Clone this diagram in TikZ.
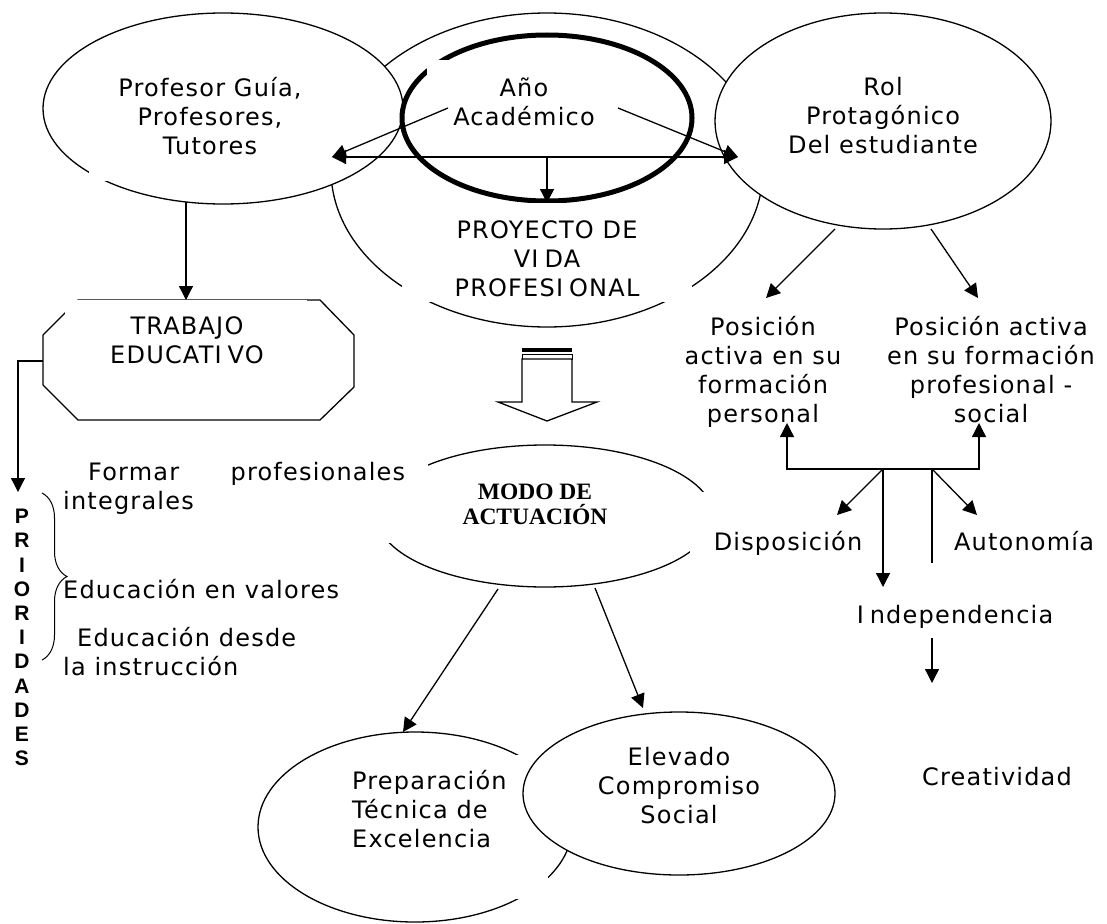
\documentclass[tikz,border=0pt]{standalone}
\usepackage{fontspec}
\usetikzlibrary{shapes.geometric,arrows.meta,decorations.pathreplacing}
\newfontfamily\vf{DejaVu Sans}[LetterSpace=5]
\newfontfamily\abold{Liberation Sans}
\newfontfamily\tbold{Liberation Serif}
\newcommand\vfs{\vf\fontsize{24}{29}\selectfont}
\newcommand\pfs{\abold\bfseries\fontsize{21}{24.2}\selectfont}
\newcommand\mfs{\tbold\bfseries\fontsize{23.5}{25}\selectfont}
\begin{document}
\begin{tikzpicture}[x=1pt,y=-1pt,
  ln/.style={line width=1.3pt},
  ell/.style={ellipse, draw, line width=1.3pt, inner sep=0pt},
  txt/.style={font=\vfs, inner sep=0pt, align=center, execute at begin node=\strut, execute at end node=\strut},
  tip/.tip={Triangle[length=14pt,width=14pt]},
  arr/.style={line width=1.3pt, -tip},
  mask/.style={fill=white}]
\fill[white] (0,0) rectangle (1107,923);
\useasboundingbox (0,0) rectangle (1107,923);

% top group
\node[ell, minimum width=432pt, minimum height=314pt] (proy) at (547,170) {};
\node[ell, fill=white, minimum width=360pt, minimum height=191pt] (prof) at (223,108.5) {};
\node[ell, fill=white, minimum width=336pt, minimum height=216pt] (rol) at (883,121) {};
\node[ell, line width=5pt, minimum width=290pt, minimum height=166pt] (ano) at (547,118) {};
\fill[mask] (402,203) rectangle (692,302);
\fill[mask] (427,60) rectangle (640,130);
\fill[mask] (89,70) rectangle (330,181);

% octagon
\draw[ln] (78,300) -- (320,300) -- (354,335) -- (354,387) -- (320,420) -- (78,420) -- (43,385) -- (43,335) -- cycle;
\fill[mask] (65,300) rectangle (307,380);

% modo
\node[ell, minimum width=336pt, minimum height=142pt] (modo) at (545,516) {};
\fill[mask] (60,455) rectangle (428,543);
\fill[mask] (690,492) rectangle (870,565);

% bottom ellipses
\node[ell, minimum width=314pt, minimum height=190pt] (prep) at (415,827) {};
\fill[mask] (340,755) rectangle (548,899);
\node[ell, fill=white, minimum width=312pt, minimum height=163pt] (elev) at (679,793.5) {};

% block arrow
\fill (522,348) rectangle (572,351.5);
\draw[line width=1pt] (522,354) rectangle (572,359);
\draw[ln, fill=white] (522,359) -- (572,359) -- (572,402) -- (597,402) -- (547,421) -- (498,402) -- (522,402) -- cycle;

% texts
\node[txt] (tprof) at (210,120.2) {Profesor Guía,\\Profesores,\\Tutores};
\node[txt] (tano) at (524,105.7) {Año\\Académico};
\node[txt] (trol) at (883,120.2) {Rol\\Protagónico\\Del estudiante};
\node[txt] (tproy) at (547,263.2) {PROYECTO DE\\VI\kern6pt DA\\PROFESI\kern6pt ONAL};
\node[txt] (ttrab) at (187,344.7) {TRABAJO\\EDUCATI\kern6pt VO};
\node[txt] (tpos1) at (763,373.7) {Posición\\activa en su\\formación\\personal};
\node[txt] (tpos2) at (991,373.7) {Posición activa\\en su formación\\profesional -\\social};
\node[txt] (tdisp) at (788,544.2) {Disposición};
\node[txt] (taut) at (1024,544.2) {Autonomía};
\node[txt] (tind) at (955,617.2) {I\kern6pt ndependencia};
\node[txt] (tcrea) at (997,779.2) {Creatividad};
\node[txt, anchor=west, text width=342pt, align=left] (tform) at (63,488.7) {\hspace*{25pt}Formar\hfill profesionales\\integrales};
\node[txt, anchor=west, align=left] (tval) at (63,592.2) {Educación en valores};
\node[txt, anchor=west, align=left] (tdesde) at (63,655.7) {\hspace*{14pt}Educación desde\\la instrucción};
\node[font=\pfs, inner sep=0pt, align=center, execute at begin node=\strut, execute at end node=\strut] (tprio) at (22,641) {P\\R\\I\\O\\R\\I\\D\\A\\D\\E\\S};
\node[font=\mfs, inner sep=0pt, align=center, execute at begin node=\strut, execute at end node=\strut] (tmodo) at (535,507.5) {MODO DE\\ACTUACIÓN};
\node[txt, anchor=west, align=left] (tprep) at (352,813.2) {Preparación\\Técnica de\\Excelencia};
\node[txt] (telev) at (679,790.2) {Elevado\\Compromiso\\Social};

% brace
\draw[line width=1pt, decorate, decoration={brace, amplitude=25pt}] (42,493) -- (42,660);

% connector coordinates
\coordinate (a1) at (448,108);
\coordinate (a2) at (618,108);
\coordinate (pL) at (332,157);
\coordinate (pR) at (738,157);
\coordinate (pm) at (547,157);
\coordinate (pb) at (547,203);
\coordinate (pf) at (186,202);
\coordinate (tr) at (186,300);
\coordinate (oc) at (43,361);
\coordinate (pr) at (18,492);
\coordinate (r1) at (835,229);
\coordinate (r1t) at (766,298);
\coordinate (r2) at (931,229);
\coordinate (r2t) at (978,298);
\coordinate (jL) at (787,469);
\coordinate (jR) at (979,469);
\coordinate (uL) at (787,423);
\coordinate (uR) at (979,423);
\coordinate (j1) at (883,469);
\coordinate (d1) at (883,587);
\coordinate (j1t) at (837,515);
\coordinate (j2) at (932,469);
\coordinate (j2e) at (932,563);
\coordinate (j2t) at (977,515);
\coordinate (i1) at (932,638);
\coordinate (i2) at (932,683);
\coordinate (m1) at (498,589);
\coordinate (m1t) at (403,732);
\coordinate (m2) at (595,588);
\coordinate (m2t) at (643,708);

% connectors
\draw[arr] (a1) -- (pL);
\draw[ln, tip-tip] (pL) -- (pR);
\draw[arr] (a2) -- (pR);
\draw[arr] (pm) -- (pb);
\draw[arr] (pf) -- (tr);
\draw[arr] (oc) -| (pr);
\draw[arr] (r1) -- (r1t);
\draw[arr] (r2) -- (r2t);
\draw[ln, tip-tip] (uL) -- (jL) -- (jR) -- (uR);
\draw[arr] (j1) -- (d1);
\draw[arr] (j1) -- (j1t);
\draw[ln] (j2) -- (j2e);
\draw[arr] (j2) -- (j2t);
\draw[arr] (i1) -- (i2);
\draw[arr] (m1) -- (m1t);
\draw[arr] (m2) -- (m2t);
\end{tikzpicture}
\end{document}
